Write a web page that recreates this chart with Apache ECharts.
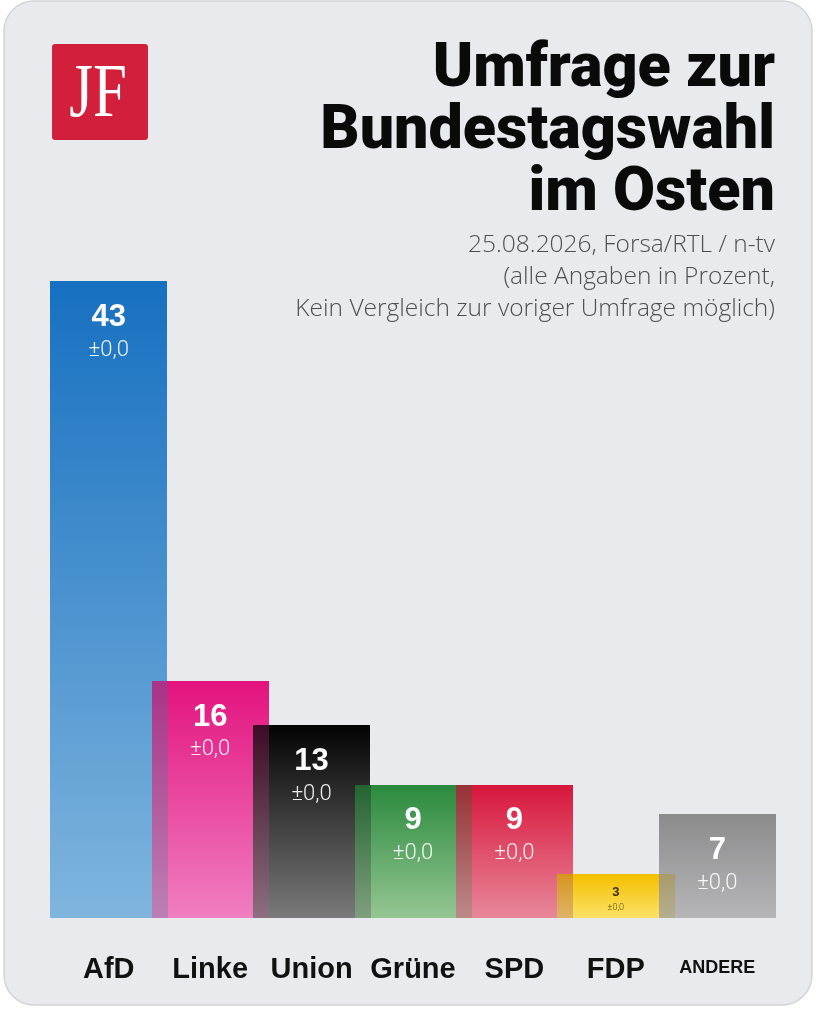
<!DOCTYPE html>
<html lang="de" style="height: 100%">
<head>
    <meta charset="utf-8">
</head>
<body style="height: 100%; margin: 0; background: #ffffff">
    <div id="main" style="width: 818px; height: 1016px"></div>
    <script type="text/javascript" src="https://fastly.jsdelivr.net/npm/echarts@6.0.0/dist/echarts.min.js"></script>
    <script type="text/javascript">
        // Umfrage-Werte
        var parties = ['AfD', 'Linke', 'Union', 'Grüne', 'SPD', 'FDP', 'ANDERE'];
        var values = [43, 16, 13, 9, 9, 3, 7];
        var changes = ['±0,0', '±0,0', '±0,0', '±0,0', '±0,0', '±0,0', '±0,0'];
        var topColors = ['#1670c0', '#e3137e', '#030303', '#2a8a3d', '#d8163c', '#f5bf00', '#8b8b8c'];
        var bottomColors = ['#80b5de', '#f07fc1', '#7a7a7b', '#95c693', '#e8889a', '#fbe165', '#b6b6b8'];

        var dom = document.getElementById('main');
        var myChart = echarts.init(dom, null, { renderer: 'canvas' });
        var option;

        function toRgb(hex) {
            var n = parseInt(hex.slice(1), 16);
            return [(n >> 16) & 255, (n >> 8) & 255, n & 255];
        }
        function lerp(ca, cb, t) {
            return [0, 1, 2].map(function (k) { return ca[k] + (cb[k] - ca[k]) * t; });
        }
        // Streifenfarbe: oberer Balken leicht durchscheinend ueber dem Nachbarn
        function blend(cur, prev) {
            var c = lerp(cur, prev, 0.28);
            return 'rgb(' + c.map(function (x) { return Math.round(x * 0.9); }).join(',') + ')';
        }
        function colorAt(i, y, yTop, yBase) {
            var t = (y - yTop) / (yBase - yTop);
            return lerp(toRgb(topColors[i]), toRgb(bottomColors[i]), Math.min(1, Math.max(0, t)));
        }

        function renderItem(params, api) {
            var i = api.value(0);
            var v = api.value(1);
            var p = api.coord([i, v]);
            var b = api.coord([i, 0]);
            var pitch = api.size([1, 0])[0];
            var w = Math.round(pitch * 1.155);
            var ov = Math.round(w - pitch);
            var x0 = Math.round(p[0] - w / 2);
            var yTop = Math.round(p[1]);
            var yBase = Math.round(b[1]);
            var children = [];
            children.push({
                type: 'rect',
                shape: { x: x0, y: yTop, width: w, height: yBase - yTop },
                style: {
                    fill: new echarts.graphic.LinearGradient(0, 0, 0, 1, [
                        { offset: 0, color: topColors[i] },
                        { offset: 1, color: bottomColors[i] }
                    ])
                }
            });
            if (i > 0) {
                var prevTop = Math.round(api.coord([i - 1, values[i - 1]])[1]);
                var splitY = Math.max(yTop, prevTop);
                var c0 = blend(colorAt(i, splitY, yTop, yBase), colorAt(i - 1, splitY, prevTop, yBase));
                var c1 = blend(toRgb(bottomColors[i]), toRgb(bottomColors[i - 1]));
                children.push({
                    type: 'rect',
                    shape: { x: x0, y: splitY, width: ov, height: yBase - splitY },
                    style: {
                        fill: new echarts.graphic.LinearGradient(0, 0, 0, 1, [
                            { offset: 0, color: c0 },
                            { offset: 1, color: c1 }
                        ])
                    }
                });
            }
            var small = v < 5;
            children.push({
                type: 'text',
                style: {
                    text: String(v), x: p[0], y: p[1] + (small ? 19 : 36),
                    align: 'center', verticalAlign: 'middle',
                    fill: small ? '#3b2d00' : '#ffffff',
                    fontFamily: 'Liberation Sans', fontWeight: 'bold',
                    fontSize: small ? 13 : 31
                }
            });
            children.push({
                type: 'text',
                style: {
                    text: changes[i], x: p[0], y: p[1] + (small ? 34 : 69),
                    align: 'center', verticalAlign: 'middle',
                    fill: small ? '#5a4a10' : 'rgba(255,255,255,0.92)',
                    fontFamily: 'Roboto', fontWeight: 300,
                    fontSize: small ? 9 : 22
                }
            });
            return { type: 'group', children: children };
        }

        option = {
            backgroundColor: '#ffffff',
            animation: false,
            graphic: [
                {
                    type: 'rect',
                    z: -10,
                    shape: { x: 4, y: 1, width: 808, height: 1004, r: 30 },
                    style: { fill: '#e9eaee', stroke: '#d3d4d8', lineWidth: 1.5 }
                },
                {
                    type: 'rect',
                    shape: { x: 52, y: 44, width: 96, height: 96, r: 3 },
                    style: { fill: '#d21f3b' }
                },
                {
                    type: 'text',
                    z: 10,
                    x: 98, y: 96,
                    scaleX: 0.8,
                    style: {
                        text: 'JF',
                        align: 'center', verticalAlign: 'middle',
                        fill: '#ffffff',
                        fontFamily: 'Liberation Serif', fontSize: 76
                    }
                },
                {
                    type: 'text',
                    style: {
                        text: 'Umfrage zur\nBundestagswahl\nim Osten',
                        x: 775, y: 40,
                        align: 'right', verticalAlign: 'top',
                        fill: '#0a0a0a',
                        fontFamily: 'Roboto', fontWeight: 900,
                        fontSize: 61, lineHeight: 62
                    }
                },
                {
                    type: 'text',
                    style: {
                        text: '25.08.2026, Forsa/RTL / n-tv\n(alle Angaben in Prozent,\nKein Vergleich zur voriger Umfrage möglich)',
                        x: 775, y: 229,
                        align: 'right', verticalAlign: 'top',
                        fill: '#4e4e50',
                        fontFamily: 'Open Sans', fontWeight: 300,
                        fontSize: 24.5, lineHeight: 32
                    }
                }
            ],
            grid: {
                left: 58,
                right: 50,
                top: 281,
                bottom: 98
            },
            xAxis: {
                type: 'category',
                data: parties,
                axisLine: { show: false },
                axisTick: { show: false },
                axisLabel: {
                    margin: 37,
                    interval: 0,
                    color: '#111111',
                    fontFamily: 'Liberation Sans',
                    fontWeight: 'bold',
                    fontSize: 29,
                    formatter: function (val) {
                        return val === 'ANDERE' ? '{s|' + val + '}' : val;
                    },
                    rich: {
                        s: {
                            fontFamily: 'Liberation Sans',
                            fontWeight: 'bold',
                            fontSize: 18,
                            color: '#111111',
                            padding: [4, 0, 0, 0]
                        }
                    }
                }
            },
            yAxis: {
                type: 'value',
                min: 0,
                max: 43,
                show: false
            },
            series: [
                {
                    type: 'custom',
                    renderItem: renderItem,
                    data: parties.map(function (p, i) { return [i, values[i]]; })
                }
            ]
        };

        myChart.setOption(option);
        window.addEventListener('resize', myChart.resize);
    </script>
</body>
</html>
